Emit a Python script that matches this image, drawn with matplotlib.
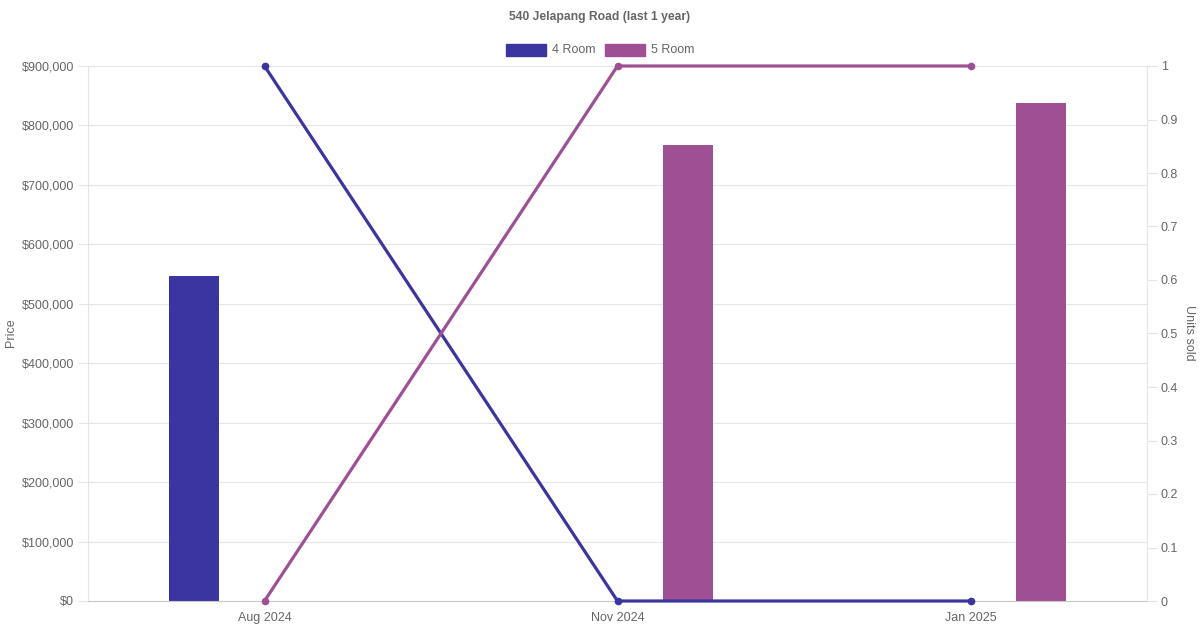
import matplotlib.pyplot as plt
from matplotlib.ticker import FuncFormatter, MultipleLocator
from matplotlib.patches import Rectangle

plt.rcParams['font.family'] = ['Liberation Sans', 'DejaVu Sans']

months = ['Aug 2024', 'Nov 2024', 'Jan 2025']
price_4room = [547000, None, None]
price_5room = [None, 767000, 838000]
units_4room = [1, 0, 0]
units_5room = [0, 1, 1]

c4 = '#3a35a0'
c5 = '#9f4f93'
txt = '#666666'
grid = '#e5e5e5'

fig = plt.figure(figsize=(12, 6.3), dpi=100)
ax = fig.add_axes([88 / 1200, 29 / 630, 1059 / 1200, 535 / 630])
ax2 = ax.twinx()

x = list(range(len(months)))
w = 0.142
for i, v in enumerate(price_4room):
    if v is not None:
        ax.bar(i - 0.2, v, width=w, color=c4, zorder=2)
for i, v in enumerate(price_5room):
    if v is not None:
        ax.bar(i + 0.2, v, width=w, color=c5, zorder=2)

ax2.plot(x, units_4room, color=c4, lw=2.3, marker='o', ms=4.5, zorder=3, clip_on=False)
ax2.plot(x, units_5room, color=c5, lw=2.3, marker='o', ms=4.5, zorder=3, clip_on=False)

ax.set_xlim(-0.5, 2.5)
ax.set_ylim(0, 900000)
ax2.set_ylim(0, 1)
ax.yaxis.set_major_locator(MultipleLocator(100000))
ax.yaxis.set_major_formatter(FuncFormatter(lambda v, p: f'${v:,.0f}'))
ax2.yaxis.set_major_locator(MultipleLocator(0.1))
ax2.yaxis.set_major_formatter(FuncFormatter(lambda v, p: f'{v:g}'))
ax.set_xticks(x)
ax.set_xticklabels(months)

ax.grid(axis='y', color=grid, lw=0.8, zorder=0)
ax.set_axisbelow(True)
for a in (ax, ax2):
    for s in a.spines.values():
        s.set_visible(False)
    a.tick_params(colors=grid, labelcolor=txt, labelsize=9, length=7, width=0.8)
ax.spines['left'].set_visible(True)
ax.spines['left'].set_color(grid)
ax2.spines['right'].set_visible(True)
ax2.spines['right'].set_color(grid)
ax.spines['bottom'].set_visible(True)
ax.spines['bottom'].set_color('#c8c8c8')
ax.tick_params(axis='x', length=0, pad=8)
ax.tick_params(axis='y', pad=3)
ax2.tick_params(axis='y', pad=3)

# axis titles placed by hand
fig.text(11 / 1200, 1 - 333 / 630, 'Price', rotation=90, ha='center', va='center',
         color=txt, fontsize=9)
fig.text(1189 / 1200, 1 - 333 / 630, 'Units sold', rotation=270, ha='center', va='center',
         color=txt, fontsize=9)

fig.text(0.5, 1 - 17 / 630, '540 Jelapang Road (last 1 year)', ha='center', va='center',
         color=txt, fontsize=8.7, fontweight='bold')

# legend
items = [('4 Room', c4, 506), ('5 Room', c5, 605)]
for label, col, px in items:
    fig.patches.append(Rectangle((px / 1200, 1 - 56 / 630), 40 / 1200, 12 / 630,
                                 transform=fig.transFigure, color=col))
    fig.text((px + 46) / 1200, 1 - 50 / 630, label, ha='left', va='center', color=txt, fontsize=9)

fig.savefig('out.png', dpi=100)
